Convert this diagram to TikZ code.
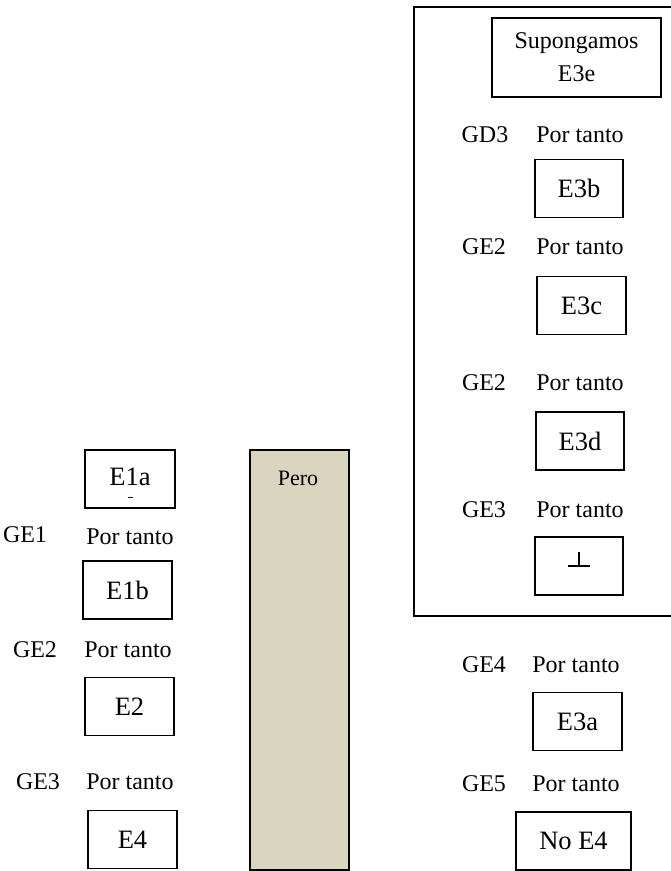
\documentclass[tikz,border=0pt]{standalone}
\usepackage{fontspec}
\setmainfont{Liberation Serif}
\definecolor{peroFill}{HTML}{DAD5BF}
\begin{document}
\begin{tikzpicture}[x=1pt,y=-1pt,
  txt/.style={font=\fontsize{24}{28}\selectfont, inner sep=0pt},
  stmt/.style={draw=black, line width=1.6pt, font=\fontsize{26.5}{30}\selectfont,
    inner sep=0pt, minimum height=58pt},
  frame/.style={draw=black, line width=1.6pt}]
\useasboundingbox (0,0) rectangle (671,871);

% sub-proof frame (open to the right)
\draw[frame] (676,7) -- (414,7) -- (414,616) -- (676,616);

% right column inside the frame
\node[stmt, minimum width=169pt, minimum height=79pt, align=center,
  font=\fontsize{24}{33}\selectfont] (e3e) at (576.5,57.5) {Supongamos\\E3e};
\node[txt] (gd3) at (485,135) {GD3};
\node[txt] (pt1) at (580,135) {Por tanto};
\node[stmt, minimum width=88pt] (e3b) at (579,188.5) {E3b};
\node[txt] (ge2a) at (484,247) {GE2};
\node[txt] (pt2) at (580,247) {Por tanto};
\node[stmt, minimum width=89pt] (e3c) at (581.5,305.5) {E3c};
\node[txt] (ge2b) at (484,383) {GE2};
\node[txt] (pt3) at (580,383) {Por tanto};
\node[stmt, minimum width=88pt] (e3d) at (580,441) {E3d};
\node[txt] (ge3a) at (484,510) {GE3};
\node[txt] (pt4) at (580,510) {Por tanto};
\node[stmt, minimum width=88pt] (bot) at (579,566) {};
% falsum symbol
\draw[line width=1.6pt] ([xshift=-11pt]bot.center) -- ([xshift=11pt]bot.center);
\draw[line width=1.6pt] (bot.center) -- ([yshift=14pt]bot.center);

% right column below the frame
\node[txt] (ge4) at (484,665) {GE4};
\node[txt] (pt5) at (576,665) {Por tanto};
\node[stmt, minimum width=89pt] (e3a) at (577.5,721.5) {E3a};
\node[txt] (ge5) at (484,784) {GE5};
\node[txt] (pt6) at (576,784) {Por tanto};
\node[stmt, minimum width=115pt] (noe4) at (573.5,841) {No E4};

% left column
\node[stmt, minimum width=90pt] (e1a) at (130,479) {};
\node[txt, font=\fontsize{26.5}{30}\selectfont] (e1alab) at (130,477) {E1a};
\draw[line width=1pt] ([xshift=-2.5pt,yshift=-18pt]e1a.center) -- ([xshift=2.5pt,yshift=-18pt]e1a.center);
\node[txt] (ge1) at (25,535) {GE1};
\node[txt] (pt7) at (130,537) {Por tanto};
\node[stmt, minimum width=89pt] (e1b) at (127.5,590) {E1b};
\node[txt] (ge2c) at (35,650) {GE2};
\node[txt] (pt8) at (128,650) {Por tanto};
\node[stmt, minimum width=89pt] (e2) at (129.5,706.5) {E2};
\node[txt] (ge3b) at (38,782) {GE3};
\node[txt] (pt9) at (130,782) {Por tanto};
\node[stmt, minimum width=89pt] (e4) at (132.5,839.5) {E4};

% "Pero" bar
\node[draw=black, line width=1.6pt, fill=peroFill, minimum width=99pt,
  minimum height=420pt, inner sep=0pt] (pero) at (299.5,660) {};
\node[txt, font=\fontsize{22}{26}\selectfont] (perolab) at (298,478) {Pero};
\end{tikzpicture}
\end{document}
